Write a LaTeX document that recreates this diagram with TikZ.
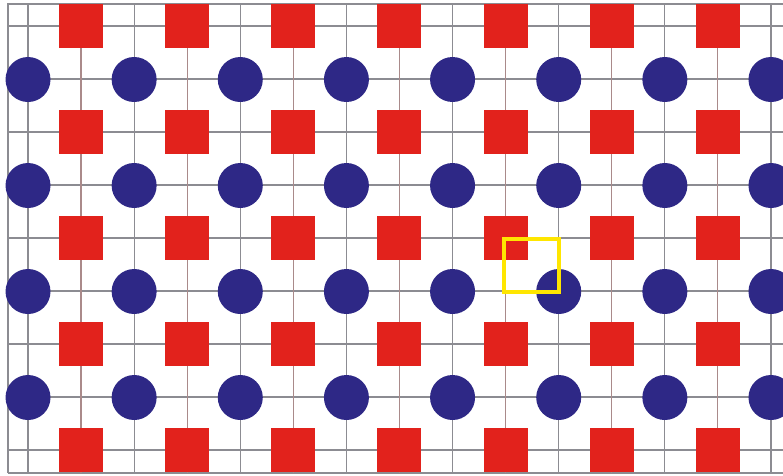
\documentclass[tikz,border=0pt]{standalone}
\definecolor{sqred}{RGB}{226,34,28}
\definecolor{cblue}{RGB}{46,40,134}
\definecolor{gline}{RGB}{140,140,146}
\definecolor{rline}{RGB}{170,138,138}
\definecolor{ybox}{RGB}{255,230,0}
\tikzset{
  gridline/.style={draw=gline, line width=1.2pt},
  redline/.style={draw=rline, line width=1.2pt},
  sqbox/.style={rectangle, fill=sqred, minimum width=44pt, minimum height=44pt, inner sep=0pt},
  dot/.style={circle, fill=cblue, minimum size=45pt, inner sep=0pt},
  cellbox/.style={draw=ybox, line width=3.6pt}
}
\begin{document}
\begin{tikzpicture}[x=1pt, y=-1pt]
\useasboundingbox (0,0) rectangle (783,475);
\fill[white] (0,0) rectangle (783,475);
% frame
\draw[gridline] (8,473) -- (8,4) -- (783,4);
\draw[gridline] (8,473) -- (783,473);
% horizontal grid lines
\foreach \j in {0,...,8} {
  \draw[gridline] (8,{26+53*\j}) -- (783,{26+53*\j});
}
% vertical grid lines through circle columns
\foreach \i in {0,...,7} {
  \draw[gridline] ({28+106.14*\i},4) -- ({28+106.14*\i},473);
}
% vertical grid lines through square columns
\foreach \i in {0,...,6} {
  \draw[redline] ({81+106.14*\i},4) -- ({81+106.14*\i},473);
}
% red squares
\foreach \i in {0,...,6} {
  \foreach \j in {0,...,4} {
    \node[sqbox] (sq-\i-\j) at ({81+106.14*\i},{26+106*\j}) {};
  }
}
% blue circles
\foreach \i in {0,...,7} {
  \foreach \j in {0,...,3} {
    \node[dot] (ci-\i-\j) at ({28+106.14*\i},{79.5+106*\j}) {};
  }
}
% yellow unit cell
\coordinate (ya) at (504,239);
\coordinate (yb) at (559,292);
\draw[cellbox] (ya) rectangle (yb);
\end{tikzpicture}
\end{document}
